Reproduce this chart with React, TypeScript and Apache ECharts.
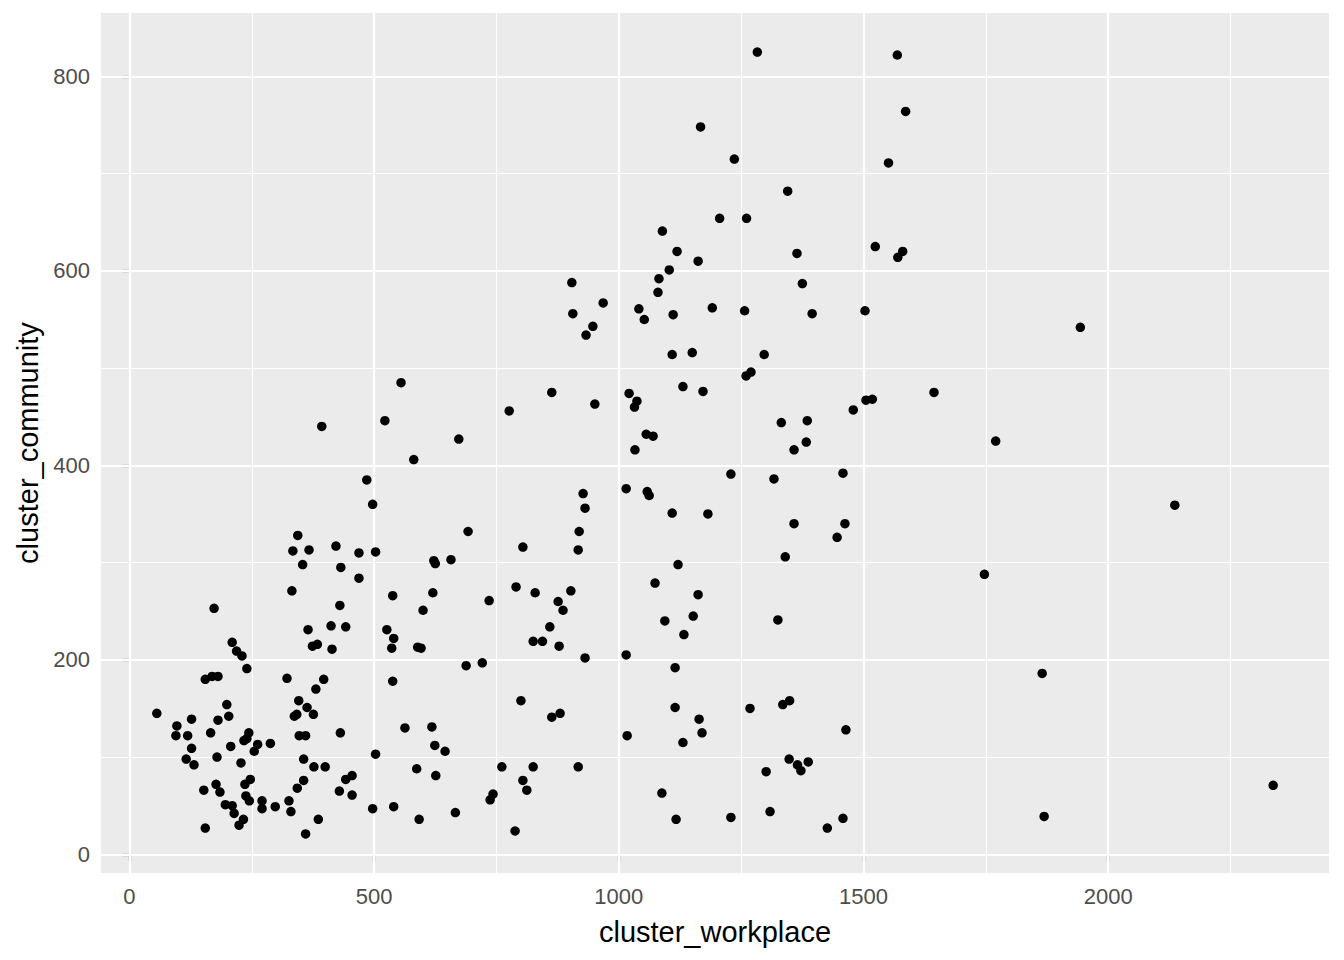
import React, { useEffect, useRef } from "react";
import * as echarts from "echarts";

// cluster_workplace (x) and cluster_community (y)
const workplace = [
  354, 432, 469, 332, 173, 430, 365, 412, 442, 210, 219, 230, 240, 374, 384, 414, 155, 169, 181, 322,
  397, 381, 199, 56, 127, 97, 181, 203, 346, 363, 376, 337, 342, 95, 119, 166, 244, 234, 240, 262,
  255, 288, 207, 347, 360, 431, 127, 116, 132, 179, 228, 356, 377, 400, 503, 152, 177, 185, 236, 247,
  238, 245, 271, 271, 298, 326, 330, 343, 356, 429, 442, 455, 455, 497, 196, 210, 214, 233, 224, 155,
  386, 360, 393, 485, 497, 344, 334, 367, 422, 469, 503, 555, 522, 673, 581, 692, 622, 625, 657, 538,
  620, 735, 600, 790, 829, 902, 876, 886, 859, 825, 844, 878, 931, 1015, 526, 540, 536, 589, 596, 688,
  721, 538, 800, 863, 880, 1017, 563, 618, 624, 645, 587, 626, 761, 825, 917, 804, 812, 743, 737, 540,
  592, 666, 788, 1119, 1162, 1103, 1082, 1080, 904, 968, 906, 947, 933, 1041, 1052, 1111, 1191, 1109, 1150, 863,
  776, 951, 1021, 1037, 1032, 1131, 1172, 1056, 1070, 1033, 1229, 1015, 1058, 1062, 927, 931, 1109, 1182, 919, 804,
  917, 1121, 1074, 1162, 1152, 1094, 1133, 1325, 1115, 1115, 1164, 1170, 1131, 1268, 1335, 1349, 1464, 1348, 1365, 1372,
  1387, 1301, 1088, 1117, 1229, 1309, 1426, 1458, 1364, 1570, 1580, 1375, 1257, 1395, 1503, 1297, 1260, 1270, 1644, 1505,
  1518, 1479, 1332, 1385, 1383, 1358, 1770, 1458, 1317, 1358, 1462, 1446, 1340, 1747, 1865, 1869, 1943, 2136, 2337, 1283,
  1569, 1586, 1167, 1236, 1551, 1345, 1206, 1261, 1089, 1524,
];
const community = [
  298, 295, 284, 271, 253, 256, 231, 235, 234, 218, 209, 204, 191, 214, 216, 211, 180, 183, 183, 181,
  180, 170, 154, 145, 139, 132, 138, 142, 158, 151, 144, 142, 144, 122, 122, 125, 125, 117, 119, 113,
  106, 114, 111, 122, 122, 125, 109, 98, 92, 100, 94, 98, 90, 90, 103, 66, 72, 64, 72, 77,
  60, 55, 55, 47, 49, 55, 44, 68, 76, 65, 77, 81, 61, 47, 51, 50, 42, 36, 30, 27,
  36, 21, 440, 385, 360, 328, 312, 313, 317, 310, 311, 485, 446, 427, 406, 332, 302, 299, 303, 266,
  269, 261, 251, 275, 269, 271, 260, 251, 234, 219, 219, 214, 202, 205, 231, 222, 212, 213, 212, 194,
  197, 178, 158, 141, 145, 122, 130, 131, 112, 106, 88, 81, 90, 90, 90, 76, 66, 62, 56, 49,
  36, 43, 24, 620, 610, 601, 592, 578, 588, 567, 556, 543, 534, 561, 550, 555, 562, 514, 516, 475,
  456, 463, 474, 466, 460, 481, 476, 432, 430, 416, 391, 376, 373, 369, 371, 356, 351, 350, 332, 316,
  313, 298, 279, 267, 245, 240, 226, 241, 192, 151, 139, 125, 115, 150, 154, 158, 128, 98, 92, 86,
  95, 85, 63, 36, 38, 44, 27, 37, 618, 614, 620, 587, 559, 556, 559, 514, 492, 496, 475, 467,
  468, 457, 444, 446, 424, 416, 425, 392, 386, 340, 340, 326, 306, 288, 186, 39, 542, 359, 71, 825,
  822, 764, 748, 715, 711, 682, 654, 654, 641, 625,
];

const xTicks = [0, 500, 1000, 1500, 2000];
const yTicks = [0, 200, 400, 600, 800];
const xMinor = [250, 750, 1250, 1750, 2250];
const yMinor = [100, 300, 500, 700];
const xTitle = "cluster_workplace";
const yTitle = "cluster_community";

const FONT = "'Liberation Sans', Arial, sans-serif";

function padRange(v: number[]) {
  const lo = Math.min(...v);
  const hi = Math.max(...v);
  const d = (hi - lo) * 0.05;
  return [lo - d, hi + d];
}

export default function App() {
  const ref = useRef<HTMLDivElement>(null);
  useEffect(() => {
    const chart = echarts.init(ref.current!, null, { renderer: "svg" });
    const [xMin, xMax] = padRange(workplace);
    const [yMin, yMax] = padRange(community);
    const major = { color: "#FFFFFF", width: 2.2, type: "solid" };
    const minor = { color: "#FFFFFF", width: 1.1, type: "solid" };
    const gridLines: any[] = [
      ...xMinor.filter((v) => v > xMin && v < xMax).map((v) => ({ xAxis: v, lineStyle: minor })),
      ...yMinor.filter((v) => v > yMin && v < yMax).map((v) => ({ yAxis: v, lineStyle: minor })),
      ...xTicks.map((v) => ({ xAxis: v, lineStyle: major })),
      ...yTicks.map((v) => ({ yAxis: v, lineStyle: major })),
    ];
    const plain = (v: number) => String(v);
    chart.setOption({
      animation: false,
      textStyle: { fontFamily: FONT },
      grid: {
        left: 101,
        right: 15,
        top: 13,
        bottom: 87,
        show: true,
        backgroundColor: "#EBEBEB",
        borderWidth: 0,
      },
      xAxis: {
        type: "value",
        min: xMin,
        max: xMax,
        splitLine: { show: false },
        axisLine: { show: false },
        axisTick: {
          show: true,
          customValues: xTicks,
          length: 7,
          lineStyle: { color: "#333333", width: 2.2 },
        },
        axisLabel: {
          customValues: xTicks,
          formatter: plain,
          color: "#4D4D4D",
          fontSize: 22,
          margin: 12,
          fontFamily: FONT,
        },
        name: xTitle,
        nameLocation: "middle",
        nameGap: 44,
        nameTextStyle: { color: "#000000", fontSize: 29, fontFamily: FONT },
      },
      yAxis: {
        type: "value",
        min: yMin,
        max: yMax,
        splitLine: { show: false },
        axisLine: { show: false },
        axisTick: {
          show: true,
          customValues: yTicks,
          length: 7,
          lineStyle: { color: "#333333", width: 2.2 },
        },
        axisLabel: {
          customValues: yTicks,
          formatter: plain,
          color: "#4D4D4D",
          fontSize: 22,
          margin: 11,
          fontFamily: FONT,
        },
        name: yTitle,
        nameLocation: "middle",
        nameGap: 59,
        nameRotate: 90,
        nameTextStyle: { color: "#000000", fontSize: 29, fontFamily: FONT },
      },
      series: [
        {
          type: "scatter",
          data: workplace.map((x, i) => [x, community[i]]),
          symbol: "circle",
          symbolSize: 9.5,
          itemStyle: { color: "#000000", opacity: 1 },
          silent: true,
          z: 2,
          markLine: {
            z: 1,
            silent: true,
            symbol: "none",
            label: { show: false },
            emphasis: { disabled: true },
            data: gridLines,
          },
        },
      ],
    });
    return () => chart.dispose();
  }, []);
  return (
    <div
      ref={ref}
      style={{ position: "absolute", left: 0, top: 0, width: 1344, height: 960 }}
    />
  );
}
